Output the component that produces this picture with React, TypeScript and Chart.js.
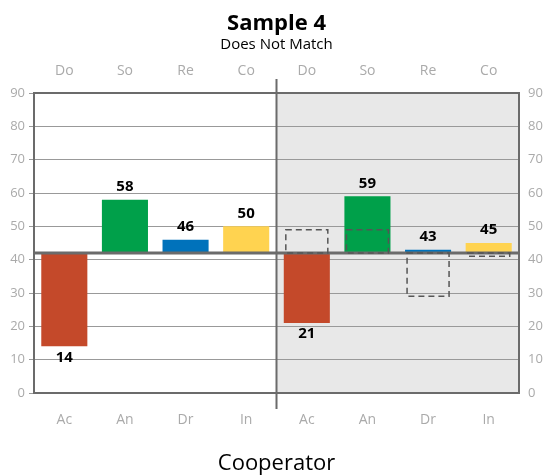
import React, { useEffect, useRef } from "react";
import { Chart, registerables } from "chart.js";
Chart.register(...registerables);

const bottomLabels = ["Ac", "An", "Dr", "In", "Ac", "An", "Dr", "In"];
const topLabels = ["Do", "So", "Re", "Co", "Do", "So", "Re", "Co"];
const values = [14, 58, 46, 50, 21, 59, 43, 45];
const targets: (number | null)[] = [null, null, null, null, 49, 49, 29, 41];
const baseline = 42;
const palette = ["#C4492A", "#00A04A", "#0072BB", "#FFD350"];
const barColors = bottomLabels.map((_, i) => palette[i % 4]);
const FONT = "'Open Sans', 'Noto Sans', sans-serif";

const decor = {
  id: "decor",
  beforeDraw(chart: any) {
    const { ctx, chartArea: a, scales } = chart;
    const x = scales.x;
    const mid = (x.getPixelForValue(3) + x.getPixelForValue(4)) / 2;
    ctx.save();
    ctx.fillStyle = "#e8e8e8";
    ctx.fillRect(mid, a.top, a.right - mid, a.bottom - a.top);
    ctx.restore();
  },
  afterDatasetsDraw(chart: any) {
    const { ctx, chartArea: a, scales } = chart;
    const x = scales.x;
    const y = scales.y;
    const mid = (x.getPixelForValue(3) + x.getPixelForValue(4)) / 2;
    const yb = y.getPixelForValue(baseline);
    ctx.save();
    // baseline
    ctx.strokeStyle = "#6b6b6b";
    ctx.lineWidth = 3;
    ctx.beginPath();
    ctx.moveTo(a.left, yb);
    ctx.lineTo(a.right, yb);
    ctx.stroke();
    // dashed target boxes
    ctx.strokeStyle = "#555";
    ctx.lineWidth = 1.5;
    ctx.setLineDash([6, 4]);
    targets.forEach((t, i) => {
      if (t == null) return;
      const cx = x.getPixelForValue(i);
      const yt = y.getPixelForValue(t);
      ctx.strokeRect(cx - 21, Math.min(yt, yb), 42, Math.abs(yt - yb));
    });
    ctx.setLineDash([]);
    // frame
    ctx.strokeStyle = "#6b6b6b";
    ctx.lineWidth = 2;
    ctx.strokeRect(a.left, a.top, a.right - a.left, a.bottom - a.top);
    ctx.beginPath();
    ctx.moveTo(mid, a.top - 14);
    ctx.lineTo(mid, a.bottom + 16);
    ctx.stroke();
    // value labels
    ctx.fillStyle = "#000";
    ctx.font = `bold 15px ${FONT}`;
    ctx.textAlign = "center";
    ctx.textBaseline = "middle";
    values.forEach((v, i) => {
      const cx = x.getPixelForValue(i);
      const yv = y.getPixelForValue(v);
      if (v >= baseline) ctx.fillText(String(v), cx, yv - 13);
      else ctx.fillText(String(v), cx, yv + 11);
    });
    ctx.restore();
  },
};

export default function App() {
  const ref = useRef<HTMLCanvasElement>(null);
  useEffect(() => {
    const chart = new Chart(ref.current!, {
      type: "bar",
      data: {
        labels: bottomLabels,
        datasets: [
          {
            data: values.map((v) => [baseline, v]) as any,
            backgroundColor: barColors,
            barPercentage: 0.76,
            categoryPercentage: 1,
            borderWidth: 0,
          },
        ],
      },
      options: {
        animation: false,
        responsive: true,
        maintainAspectRatio: false,
        layout: { padding: 0 },
        plugins: {
          legend: { display: false },
          tooltip: { enabled: false },
          title: {
            display: true,
            text: "Sample 4",
            color: "#000",
            font: { family: FONT, size: 22, weight: "bold", lineHeight: 1.1 },
            padding: { top: 12, bottom: 0 },
          },
          subtitle: {
            display: true,
            text: "Does Not Match",
            color: "#000",
            font: { family: FONT, size: 15 },
            padding: { top: 0, bottom: 0 },
          },
        },
        scales: {
          x: {
            type: "category",
            position: "bottom",
            grid: { display: false, drawTicks: false },
            border: { display: false },
            ticks: { color: "#aaa", font: { family: FONT, size: 14 }, padding: 19 },
            title: {
              display: true,
              text: "Cooperator",
              color: "#000",
              font: { family: FONT, size: 22, lineHeight: 1.05 },
              padding: { top: 19, bottom: 0 },
            },
            afterFit: (s: any) => { s.height = 82; },
          },
          x2: {
            type: "category",
            position: "top",
            labels: topLabels,
            grid: { display: false, drawTicks: false },
            border: { display: false },
            ticks: { color: "#aaa", font: { family: FONT, size: 14 }, padding: 14 },
            afterFit: (s: any) => { s.height = 38.8; },
          },
          y: {
            min: 0,
            max: 90,
            position: "left",
            grid: { color: "#999", drawTicks: true, tickLength: 5, tickColor: "#999" },
            border: { display: false },
            ticks: { stepSize: 10, color: "#aaa", font: { family: FONT, size: 13 }, padding: 4 },
            afterFit: (s: any) => { s.width = 34; },
          },
          y2: {
            min: 0,
            max: 90,
            position: "right",
            grid: { display: false, drawTicks: false },
            border: { display: false },
            ticks: { stepSize: 10, color: "#aaa", font: { family: FONT, size: 13 }, padding: 9 },
            afterFit: (s: any) => { s.width = 34; },
          },
        },
      },
      plugins: [decor],
    });
    return () => chart.destroy();
  }, []);
  return (
    <div style={{ position: "fixed", left: 0, top: 0, width: 553, height: 475 }}>
      <canvas ref={ref} />
    </div>
  );
}
